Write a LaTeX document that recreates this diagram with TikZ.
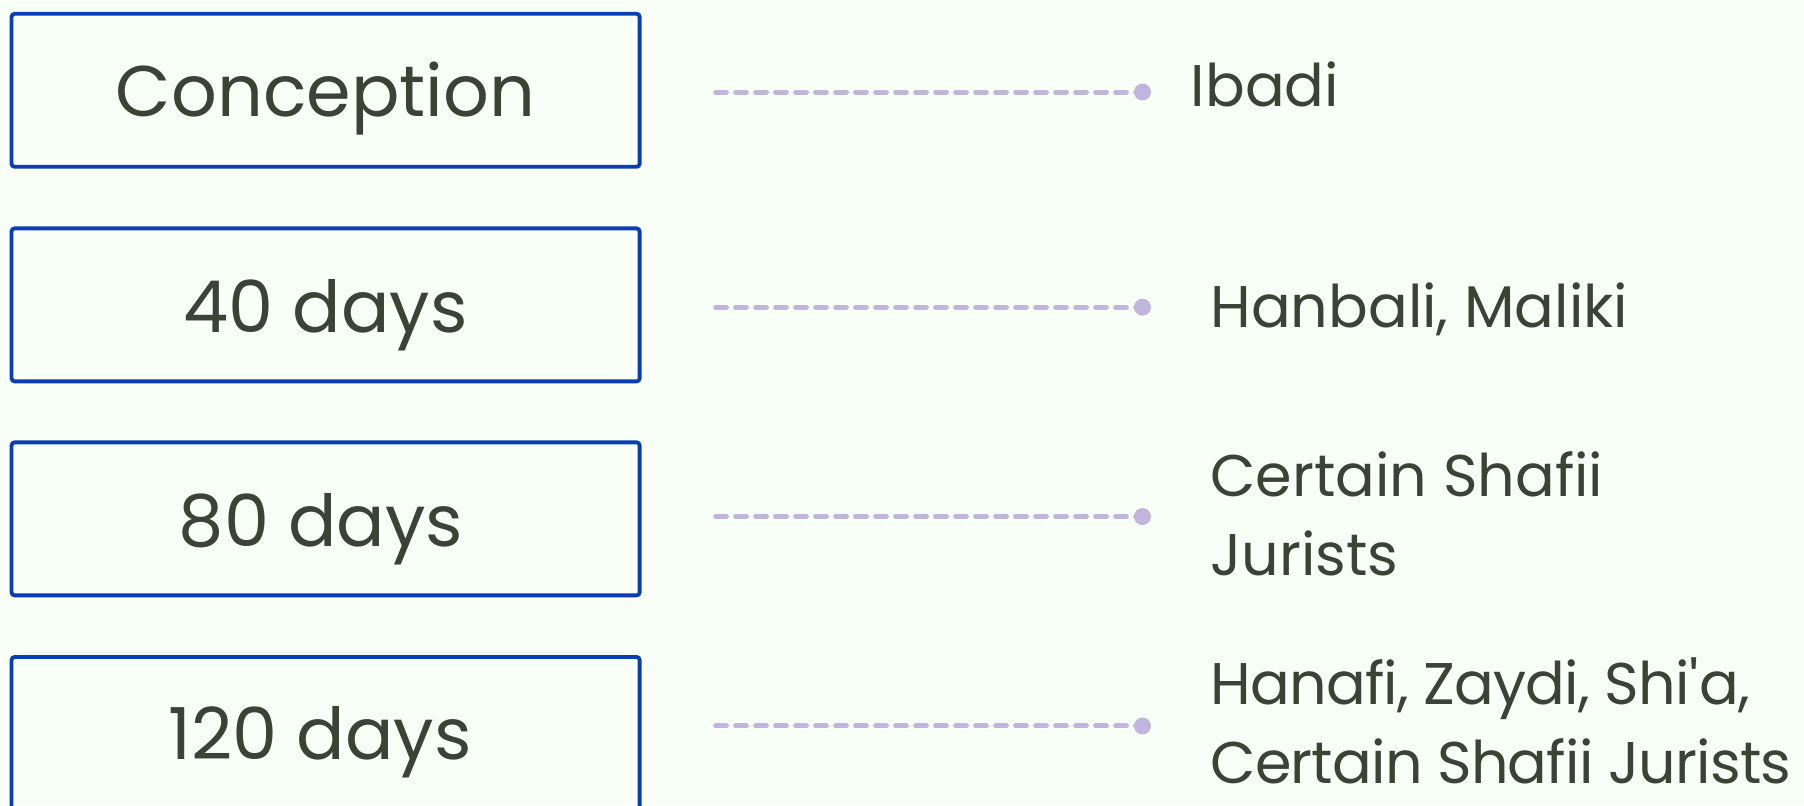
\documentclass[tikz,border=0pt]{standalone}
\usepackage{fontspec}
\setmainfont{Poppins}
\definecolor{bg}{HTML}{F8FFF6}
\definecolor{boxblue}{HTML}{0A3CB4}
\definecolor{txt}{HTML}{3B4236}
\definecolor{lav}{HTML}{C2B5DD}
\tikzset{
  stage/.style={draw=boxblue, line width=3.8bp, rounded corners=3bp, minimum width=628bp, minimum height=153bp, inner sep=0pt},
  stagetext/.style={anchor=base, text=txt, inner sep=0pt, font=\fontsize{72}{86}\selectfont},
  conn/.style={draw=lav, line width=5bp, line cap=round, dash pattern=on 10.8bp off 9.2bp},
  dotn/.style={circle, fill=lav, minimum size=17bp, inner sep=0pt},
  school/.style={anchor=base west, text=txt, align=left, inner sep=0pt, font=\fontsize{59}{79}\selectfont}
}
\begin{document}
\begin{tikzpicture}[x=1.1505bp,y=-1.1505bp]
\fill[bg] (0,0) rectangle (1568,700);
\useasboundingbox (0,0) rectangle (1568,700);
\clip (0,0) rectangle (1568,700);
\node[stage] (b1) at (283,78.5) {};
\node[stage] (b2) at (283,265) {};
\node[stage] (b3) at (283,451) {};
\node[stage] (b4) at (283,637.5) {};
\node[stagetext] (t1) at (283,101) {Conception};
\node[stagetext] (t2) at (283,289) {40 days};
\node[stagetext] (t3) at (279,475) {80 days};
\node[stagetext] (t4) at (278,660) {120 days};
\foreach \i/\yy in {1/80,2/267,3/449,4/631}{
  \coordinate (s\i) at (622,\yy);
  \node[dotn] (d\i) at (993,\yy) {};
  \draw[conn] (s\i) -- (d\i.center);
}
\node[school] (l1) at (1035,93) {Ibadi};
\node[school] (l2) at (1052,285) {Hanbali, Maliki};
\node[school] (l3) at (1052,500) {Certain Shafii\\Jurists};
\node[school, font=\fontsize{59}{79}\selectfont\addfontfeature{LetterSpace=-1.4}] (l4) at (1052,681) {Hanafi, Zaydi, Shi\textquotesingle a,\\Certain Shafii Jurists};
\end{tikzpicture}
\end{document}
